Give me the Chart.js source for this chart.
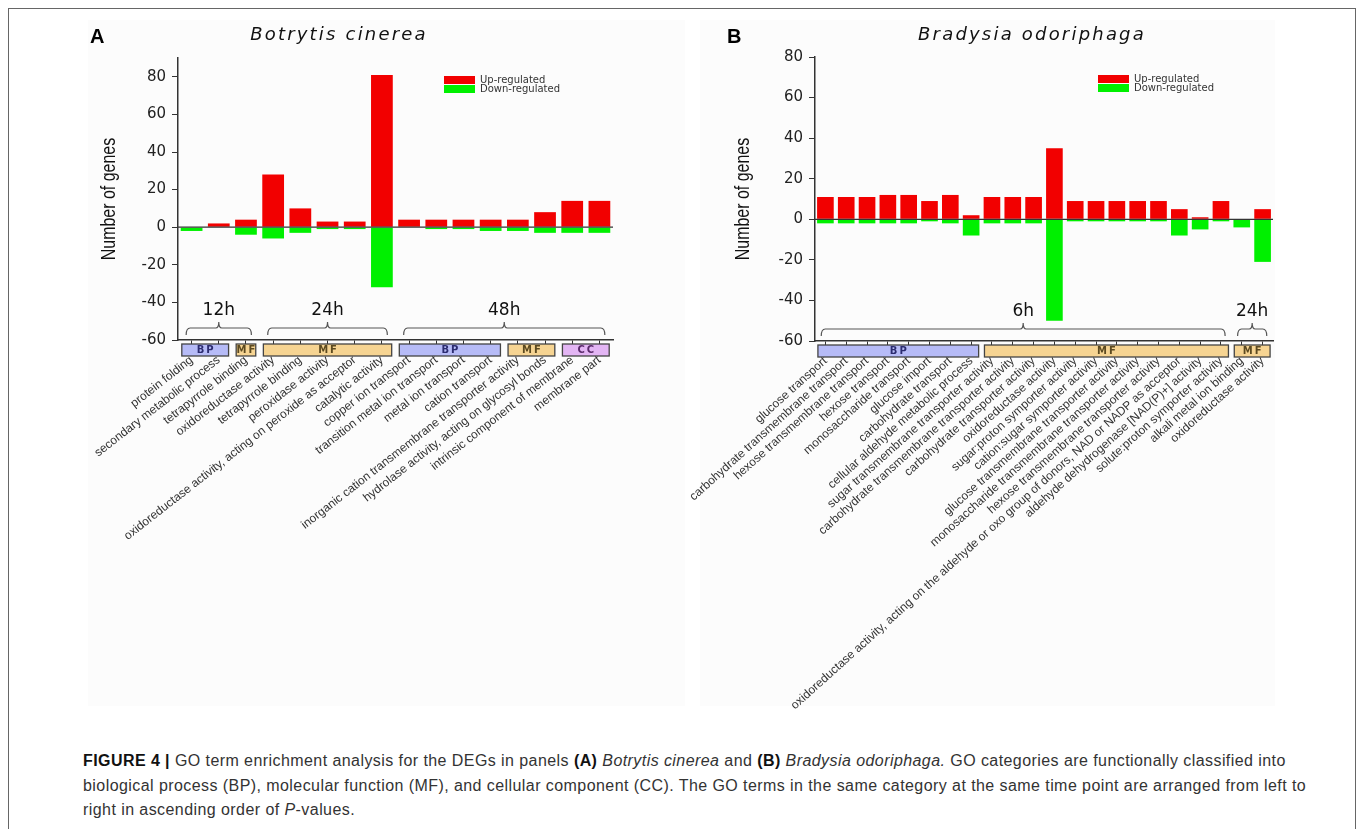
<!DOCTYPE html>
<html>
<head>
<meta charset="utf-8">
<script src="https://cdn.jsdelivr.net/npm/chart.js@4.4.1/dist/chart.umd.min.js"></script>
<style>
  body { margin: 0; background: #fff; width: 1358px; height: 829px; position: relative; overflow: hidden; font-family: 'Liberation Sans', Arial, sans-serif; }
  .frame { position: absolute; left: 8px; top: 8px; width: 1346px; height: 860px; border: 1px solid #666; }
  .panel-bg { position: absolute; background: #fcfcfc; }
  canvas { position: absolute; }
  .tag { position: absolute; font: bold 20px 'Liberation Sans', Arial, sans-serif; color: #000; }
  .title { position: absolute; font: italic 18px 'DejaVu Sans', sans-serif; letter-spacing: 2.2px; color: #111; transform: translateX(-50%); white-space: nowrap; }
  .caption { position: absolute; left: 83px; top: 749px; font-size: 16px; letter-spacing: 0.43px; line-height: 24.5px; color: #333; white-space: nowrap; }
  .caption b { color: #111; }
</style>
</head>
<body>
<div class="frame"></div>
<div class="panel-bg" style="left:88px;top:20px;width:597px;height:686px"></div>
<div class="panel-bg" style="left:700px;top:20px;width:575px;height:686px"></div>
<canvas id="botrytis" width="605" height="700" style="left:80px;top:15px"></canvas>
<canvas id="bradysia" width="640" height="700" style="left:685px;top:15px"></canvas>
<div class="tag" style="left:90px;top:25px">A</div>
<div class="tag" style="left:727px;top:25px">B</div>
<div class="title" style="left:339px;top:23px">Botrytis cinerea</div>
<div class="title" style="left:1032px;top:23px">Bradysia odoriphaga</div>
<div class="caption">
<b>FIGURE 4 |</b> GO term enrichment analysis for the DEGs in panels <b>(A)</b> <i>Botrytis cinerea</i> and <b>(B)</b> <i>Bradysia odoriphaga.</i> GO categories are functionally classified into<br>
biological process (BP), molecular function (MF), and cellular component (CC). The GO terms in the same category at the same time point are arranged from left to<br>
right in ascending order of <i>P</i>-values.
</div>

<script>
// ---- Botrytis cinerea (panel A)
const botrytisTerms = [
  'protein folding',
  'secondary metabolic process',
  'tetrapyrrole binding',
  'oxidoreductase activity',
  'tetrapyrrole binding',
  'peroxidase activity',
  'oxidoreductase activity, acting on peroxide as acceptor',
  'catalytic activity',
  'copper ion transport',
  'transition metal ion transport',
  'metal ion transport',
  'cation transport',
  'inorganic cation transmembrane transporter activity',
  'hydrolase activity, acting on glycosyl bonds',
  'intrinsic component of membrane',
  'membrane part'
]
const botrytisUp = [0, 2, 4, 28, 10, 3, 3, 81, 4, 4, 4, 4, 4, 8, 14, 14]
const botrytisDown = [-2, 0, -4, -6, -3, -1, -1, -32, 0, -1, -1, -2, -2, -3, -3, -3]
const botrytisCategories = [
  { cat: 'BP', from: 0, to: 1 },
  { cat: 'MF', from: 2, to: 2 },
  { cat: 'MF', from: 3, to: 7 },
  { cat: 'BP', from: 8, to: 11 },
  { cat: 'MF', from: 12, to: 13 },
  { cat: 'CC', from: 14, to: 15 }
]
const botrytisTimes = [
  { label: '12h', from: 0, to: 2 },
  { label: '24h', from: 3, to: 7 },
  { label: '48h', from: 8, to: 15 }
]

// ---- Bradysia odoriphaga (panel B)
const bradysiaTerms = [
  'glucose transport',
  'carbohydrate transmembrane transport',
  'hexose transmembrane transport',
  'hexose transport',
  'monosaccharide transport',
  'glucose import',
  'carbohydrate transport',
  'cellular aldehyde metabolic process',
  'sugar transmembrane transporter activity',
  'carbohydrate transmembrane transporter activity',
  'carbohydrate transporter activity',
  'oxidoreductase activity',
  'sugar:proton symporter activity',
  'cation:sugar symporter activity',
  'glucose transmembrane transporter activity',
  'monosaccharide transmembrane transporter activity',
  'hexose transmembrane transporter activity',
  'oxidoreductase activity, acting on the aldehyde or oxo group of donors, NAD or NADP as acceptor',
  'aldehyde dehydrogenase [NAD(P)+] activity',
  'solute:proton symporter activity',
  'alkali metal ion binding',
  'oxidoreductase activity'
]
const bradysiaUp = [11, 11, 11, 12, 12, 9, 12, 2, 11, 11, 11, 35, 9, 9, 9, 9, 9, 5, 1, 9, 0, 5]
const bradysiaDown = [-2, -2, -2, -2, -2, -1, -2, -8, -2, -2, -2, -50, -1, -1, -1, -1, -1, -8, -5, -1, -4, -21]
const bradysiaCategories = [
  { cat: 'BP', from: 0, to: 7 },
  { cat: 'MF', from: 8, to: 19 },
  { cat: 'MF', from: 20, to: 21 }
]
const bradysiaTimes = [
  { label: '6h', from: 0, to: 19 },
  { label: '24h', from: 20, to: 21 }
]

const boxFill = { BP: '#b6bbf7', MF: '#f6d492', CC: '#e3b5f4' }
const boxInk = { BP: '#2c2c70', MF: '#5c4a20', CC: '#5a2a6a' }

// draws the zero line, axis title, GO category boxes, time brackets and the legend
const goDecor = {
  id: 'goDecor',
  afterDraw(chart, args, opts) {
    const { ctx, chartArea, scales: { x, y } } = chart
    const sp = x.getPixelForValue(1) - x.getPixelForValue(0)
    ctx.save()

    const y0 = y.getPixelForValue(0)
    ctx.strokeStyle = '#333'
    ctx.lineWidth = 1.2
    ctx.beginPath()
    ctx.moveTo(chartArea.left, y0)
    ctx.lineTo(chartArea.right, y0)
    ctx.stroke()

    // condensed y title, like the narrow face of the original
    ctx.save()
    ctx.translate(opts.titleX, (chartArea.top + chartArea.bottom) / 2)
    ctx.rotate(-Math.PI / 2)
    ctx.scale(0.76, 1)
    ctx.fillStyle = '#111'
    ctx.font = '21px "Liberation Sans"'
    ctx.textAlign = 'center'
    ctx.textBaseline = 'middle'
    ctx.fillText('Number of genes', 0, 0)
    ctx.restore()

    opts.groups.forEach(g => {
      const x1 = x.getPixelForValue(g.from) - sp * 0.36
      const x2 = x.getPixelForValue(g.to) + sp * 0.36
      const top = chartArea.bottom + 4
      ctx.fillStyle = boxFill[g.cat]
      ctx.fillRect(x1, top, x2 - x1, 12)
      ctx.strokeStyle = '#444'
      ctx.lineWidth = 1.3
      ctx.strokeRect(x1, top, x2 - x1, 12)
      ctx.fillStyle = boxInk[g.cat]
      ctx.font = 'bold 10px "DejaVu Sans"'
      ctx.letterSpacing = '2px'
      ctx.textAlign = 'center'
      ctx.textBaseline = 'middle'
      ctx.fillText(g.cat, (x1 + x2) / 2 + 1, top + 6.5)
    })
    ctx.letterSpacing = '0px'

    opts.times.forEach(t => {
      const x1 = x.getPixelForValue(t.from) - sp * 0.2
      const x2 = x.getPixelForValue(t.to) + sp * 0.2
      const xm = (x1 + x2) / 2
      const yl = chartArea.bottom - 12
      ctx.strokeStyle = '#555'
      ctx.lineWidth = 1.2
      ctx.beginPath()
      ctx.moveTo(x1, yl + 7)
      ctx.quadraticCurveTo(x1, yl, x1 + 4, yl)
      ctx.lineTo(xm - 3, yl)
      ctx.quadraticCurveTo(xm, yl, xm, yl - 6)
      ctx.quadraticCurveTo(xm, yl, xm + 3, yl)
      ctx.lineTo(x2 - 4, yl)
      ctx.quadraticCurveTo(x2, yl, x2, yl + 7)
      ctx.stroke()
      ctx.fillStyle = '#111'
      ctx.font = '17px "DejaVu Sans"'
      ctx.textAlign = 'center'
      ctx.textBaseline = 'middle'
      ctx.fillText(t.label, xm, chartArea.bottom - 29)
    })

    chart.data.datasets.forEach((ds, i) => {
      const lx = chartArea.left + opts.legendX
      const ly = chartArea.top + opts.legendY + i * 9
      ctx.fillStyle = ds.backgroundColor
      ctx.fillRect(lx, ly, 31, 8)
      ctx.fillStyle = '#333'
      ctx.font = '10px "DejaVu Sans"'
      ctx.textAlign = 'left'
      ctx.textBaseline = 'middle'
      ctx.fillText(ds.label, lx + 36, ly + 4)
    })
    ctx.restore()
  }
}

function renderGoChart(selector, terms, up, down, groups, times, layout) {
  const ctx = document.querySelector(selector).getContext('2d')

  const myChart = new Chart(ctx, {
    type: 'bar',
    data: {
      labels: terms,
      datasets: [{
        label: 'Up-regulated',
        data: up,
        backgroundColor: '#f20000',
        stack: 'genes',
        barPercentage: 1,
        categoryPercentage: 0.8
      }, {
        label: 'Down-regulated',
        data: down,
        backgroundColor: '#00f000',
        stack: 'genes',
        barPercentage: 1,
        categoryPercentage: 0.8
      }]
    },
    plugins: [goDecor],
    options: {
      responsive: false,
      animation: false,
      layout: { padding: { left: 0, right: layout.right, top: layout.top, bottom: 0 } },
      plugins: {
        legend: { display: false },
        tooltip: { enabled: false },
        goDecor: { groups, times, legendX: layout.legendX, legendY: 18, titleX: layout.titleX }
      },
      scales: {
        x: {
          stacked: true,
          afterFit: scale => { scale.height = layout.xHeight },
          border: { display: true, color: '#333', width: 1.5 },
          grid: { offset: false, drawOnChartArea: false, drawTicks: true, tickLength: 4, tickColor: '#333' },
          ticks: {
            autoSkip: false,
            minRotation: layout.rotation,
            maxRotation: layout.rotation,
            padding: 9,
            color: '#333',
            font: { family: 'Liberation Sans', size: 12 }
          }
        },
        y: {
          stacked: true,
          min: -60,
          max: layout.yMax,
          afterBuildTicks: axis => { axis.ticks = axis.ticks.filter(t => t.value <= 80) },
          afterFit: scale => { scale.width = layout.yWidth },
          border: { display: true, color: '#333', width: 1.5 },
          grid: { drawOnChartArea: false, drawTicks: true, tickLength: 6, tickColor: '#333' },
          ticks: {
            stepSize: 20,
            padding: 6,
            color: '#222',
            font: { family: 'DejaVu Sans', size: 15 }
          }
        }
      }
    }
  })
  return myChart
}

renderGoChart('#botrytis', botrytisTerms, botrytisUp, botrytisDown, botrytisCategories, botrytisTimes,
  { right: 72, top: 43, xHeight: 375, yWidth: 98, yMax: 90, titleX: 29, rotation: 38, legendX: 266 })

renderGoChart('#bradysia', bradysiaTerms, bradysiaUp, bradysiaDown, bradysiaCategories, bradysiaTimes,
  { right: 52, top: 42, xHeight: 374, yWidth: 130, yMax: 80, titleX: 58, rotation: 42, legendX: 283 })
</script>
</body>
</html>
